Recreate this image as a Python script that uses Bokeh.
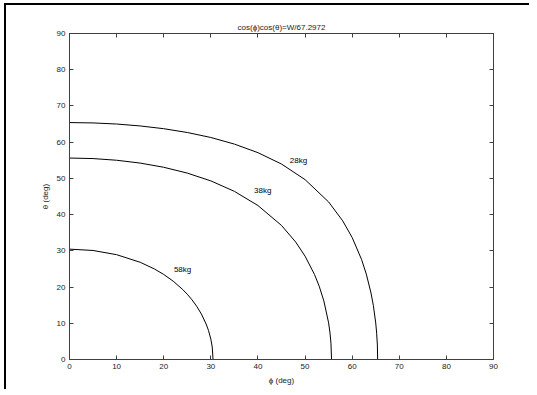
from bokeh.plotting import figure
from bokeh.layouts import column
from bokeh.models import Range1d, FixedTicker, LinearAxis, Title
from bokeh.core.properties import value
from bokeh.embed import file_html
from bokeh.resources import INLINE

title_text = "cos(\u03d5)cos(\u03b8)=W/67.2972"
x_label = "\u03d5 (deg)"
y_label = "\u03b8 (deg)"
ticks = [0, 10, 20, 30, 40, 50, 60, 70, 80, 90]

# curve W = 28 kg
phi_28 = [0, 5, 10, 15, 20, 25, 30, 35, 40, 45, 50, 55, 58, 60, 62, 63, 64, 64.5, 65, 65.2, 65.35, 65.41]
theta_28 = [65.41, 65.31, 65.01, 64.48, 63.72, 62.67, 61.29, 59.47, 57.10, 53.96, 49.66, 43.50, 38.26,
            33.68, 27.59, 23.58, 18.35, 14.88, 10.10, 7.27, 3.99, 0]
# curve W = 38 kg
phi_38 = [0, 5, 10, 15, 20, 25, 30, 35, 40, 45, 48, 50, 52, 53, 54, 55, 55.3, 55.5, 55.62]
theta_38 = [55.62, 55.47, 55.01, 54.23, 53.07, 51.46, 49.31, 46.42, 42.51, 37.01, 32.45, 28.54, 23.48,
            20.24, 16.12, 10.11, 7.30, 4.50, 0]
# curve W = 58 kg
phi_58 = [0, 5, 10, 15, 18, 20, 22, 24, 25, 26, 27, 28, 29, 29.5, 30, 30.3, 30.47]
theta_58 = [30.47, 30.10, 28.94, 26.84, 25.01, 23.48, 21.63, 19.36, 18.02, 16.47, 14.69, 12.54, 9.80,
            8.03, 5.63, 3.44, 0]

labels = ["28kg", "38kg", "58kg"]
label_x = [48.6, 41.0, 24.0]
label_y = [54.9, 46.7, 24.8]

FONT = "Liberation Sans"
FS = "8px"
AX = "#404040"

p = figure(frame_width=424, frame_height=326, output_backend="svg", toolbar_location=None,
           x_range=Range1d(0, 90), y_range=Range1d(0, 90),
           min_border_left=63, min_border_right=36, min_border_top=28, min_border_bottom=30)
p.border_fill_color = None
p.background_fill_color = "white"
p.title = Title(text=title_text, align="center", text_font=FONT, text_font_size=FS,
                text_font_style="normal", text_color="#222222", standoff=3, offset=0)
p.grid.visible = False
p.outline_line_color = AX

for ax in (p.xaxis[0], p.yaxis[0]):
    ax.ticker = FixedTicker(ticks=ticks)
    ax.major_tick_in = 4
    ax.major_tick_out = 0
    ax.minor_tick_in = 0
    ax.minor_tick_out = 0
    ax.axis_line_color = AX
    ax.major_tick_line_color = AX
    ax.major_label_text_font = FONT
    ax.major_label_text_font_size = FS
    ax.major_label_text_color = "#222222"
    ax.major_label_standoff = 4
    ax.axis_label_text_font = FONT
    ax.axis_label_text_font_size = FS
    ax.axis_label_text_font_style = "normal"
    ax.axis_label_text_color = "#222222"
    ax.axis_label_standoff = 4

p.xaxis.axis_label = x_label
p.yaxis.axis_label = y_label

for loc in ("right", "above"):
    a = LinearAxis(ticker=FixedTicker(ticks=ticks), major_tick_in=4, major_tick_out=0,
                   minor_tick_in=0, minor_tick_out=0, axis_line_color=AX,
                   major_tick_line_color=AX, major_label_overrides={t: "" for t in ticks},
                   major_label_standoff=0)
    p.add_layout(a, loc)

for xs, ys in ((phi_28, theta_28), (phi_38, theta_38), (phi_58, theta_58)):
    p.line(xs, ys, line_color="black", line_width=1)

p.text(x=label_x, y=label_y, text=labels, text_font=value(FONT), text_font_size=FS,
       text_color="black", text_align="center", text_baseline="middle")

layout = column(p, styles={"border-left": "2px solid black", "border-top": "2px solid black",
                           "margin-left": "4px", "margin-top": "3px"})

open("out.html", "w").write(file_html(layout, INLINE))
